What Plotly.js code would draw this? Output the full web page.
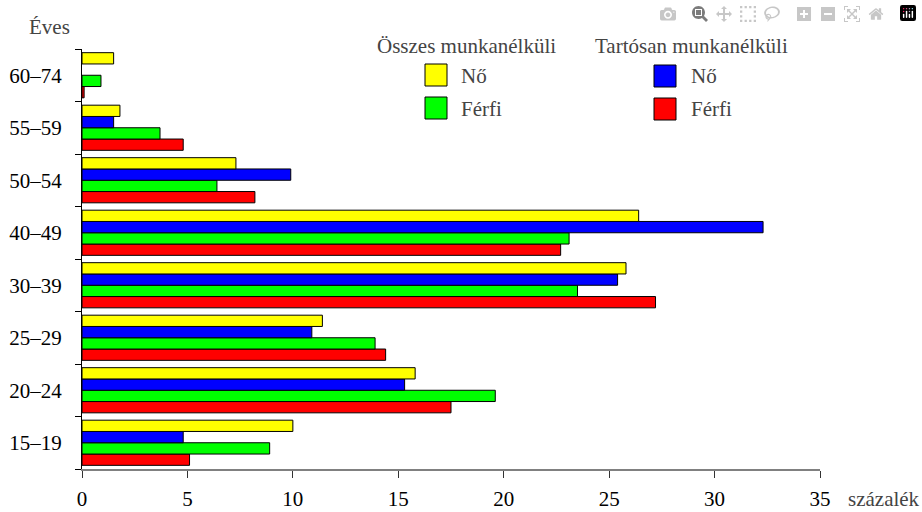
<!DOCTYPE html>
<html><head><meta charset="utf-8">
<script src="https://cdn.plot.ly/plotly-3.0.1.min.js"></script>
</head><body>
<div id="c" style="position:absolute;left:0;top:0;width:922px;height:512px"></div>
<script>
// Age groups (bottom to top)
const categories = ['15–19','20–24','25–29','30–39','40–49','50–54','55–59','60–74'];
// Percentage values
const osszesNo     = [10.0, 15.8, 11.4, 25.8, 26.4, 7.3, 1.8, 1.5];   // Összes munkanélküli – Nő (yellow)
const tartosNo     = [4.8, 15.3, 10.9, 25.4, 32.3, 9.9, 1.5, null];   // Tartósan munkanélküli – Nő (blue)
const osszesFerfi  = [8.9, 19.6, 13.9, 23.5, 23.1, 6.4, 3.7, 0.9];    // Összes munkanélküli – Férfi (green)
const tartosFerfi  = [5.1, 17.5, 14.4, 27.2, 22.7, 8.2, 4.8, 0.1];    // Tartósan munkanélküli – Férfi (red)
const xTicks = [0, 5, 10, 15, 20, 25, 30, 35];

const groupTitles = ['Összes munkanélküli', 'Tartósan munkanélküli'];
const seriesLabels = ['Nő', 'Férfi'];
const barColors = {yellow: '#FFFF00', blue: '#0000FF', green: '#00FF00', red: '#FF0000'};

function bar(vals, color, name) {
  return {
    type: 'bar', orientation: 'h', y: categories, x: vals, name: name,
    marker: {color: color, line: {color: '#000', width: 1}}
  };
}

// bottom-to-top order within each group: red, green, blue, yellow
const traces = [
  bar(tartosFerfi, barColors.red, 'Tartósan – Férfi'),
  bar(osszesFerfi, barColors.green, 'Összes – Férfi'),
  bar(tartosNo, barColors.blue, 'Tartósan – Nő'),
  bar(osszesNo, barColors.yellow, 'Összes – Nő')
];

const figW = 922, figH = 512, mg = {l: 82, r: 102, t: 49, b: 43};
const plotW = figW - mg.l - mg.r, plotH = figH - mg.t - mg.b;
const toPX = x => (x - mg.l) / plotW;
const toPY = y => (figH - mg.b - y) / plotH;

const shp = [];
const ann = [];
function legendBox(x0, y0, color) {
  shp.push({type: 'rect', xref: 'paper', yref: 'paper',
    x0: toPX(x0), x1: toPX(x0 + 22), y0: toPY(y0 + 22), y1: toPY(y0),
    fillcolor: color, line: {color: '#000', width: 1}});
}
function txt(x, y, s, anchor) {
  ann.push({xref: 'paper', yref: 'paper', x: toPX(x), y: toPY(y), text: s,
    showarrow: false, xanchor: anchor || 'left', yanchor: 'middle',
    font: {family: 'Liberation Serif', size: 21}});
}
// legend
txt(466, 46, groupTitles[0], 'center');
txt(691, 46, groupTitles[1], 'center');
legendBox(425, 64, barColors.yellow); txt(459, 76, seriesLabels[0]);
legendBox(425, 97, barColors.green);  txt(459, 109, seriesLabels[1]);
legendBox(654, 65, barColors.blue);   txt(689, 76, seriesLabels[0]);
legendBox(654, 98, barColors.red);    txt(689, 109, seriesLabels[1]);
// axis captions
txt(27, 27, 'Éves');
txt(846, 499, 'százalék');

Plotly.newPlot('c', traces, {
  width: figW, height: figH,
  margin: mg,
  showlegend: false,
  barmode: 'group', bargap: 0.14, bargroupgap: 0,
  xaxis: {
    range: [0, 35], tickvals: xTicks, ticks: 'outside', ticklen: 7, tickwidth: 1, tickcolor: '#333',
    showline: true, linecolor: '#808080', linewidth: 1.5, showgrid: false, zeroline: false,
    ticklabelstandoff: 3, tickfont: {family: 'Liberation Serif', size: 21, color: '#000'}
  },
  xaxis2: {
    overlaying: 'x', anchor: 'y', side: 'bottom', range: [0, 35], tickvals: xTicks,
    ticks: 'inside', ticklen: 7, tickwidth: 1, tickcolor: '#333',
    showticklabels: false, showline: false, showgrid: false, zeroline: false
  },
  yaxis: {
    type: 'category', categoryarray: categories, range: [-0.5, 7.5],
    tickson: 'boundaries', ticks: 'outside', ticklen: 6, tickwidth: 1, tickcolor: '#000',
    showline: true, linecolor: '#000', linewidth: 1, showgrid: false, zeroline: false,
    ticklabelstandoff: 15, tickfont: {family: 'Liberation Serif', size: 21, color: '#000'}
  },
  yaxis2: {
    overlaying: 'y', anchor: 'x', side: 'left', range: [-0.5, 7.5],
    tickvals: categories.map((c, i) => i - 0.5).concat([categories.length - 0.5]),
    ticks: 'inside', ticklen: 5, tickwidth: 1, tickcolor: '#000',
    showticklabels: false, showline: false, showgrid: false, zeroline: false
  },
  shapes: shp,
  annotations: ann
});
</script></body></html>
